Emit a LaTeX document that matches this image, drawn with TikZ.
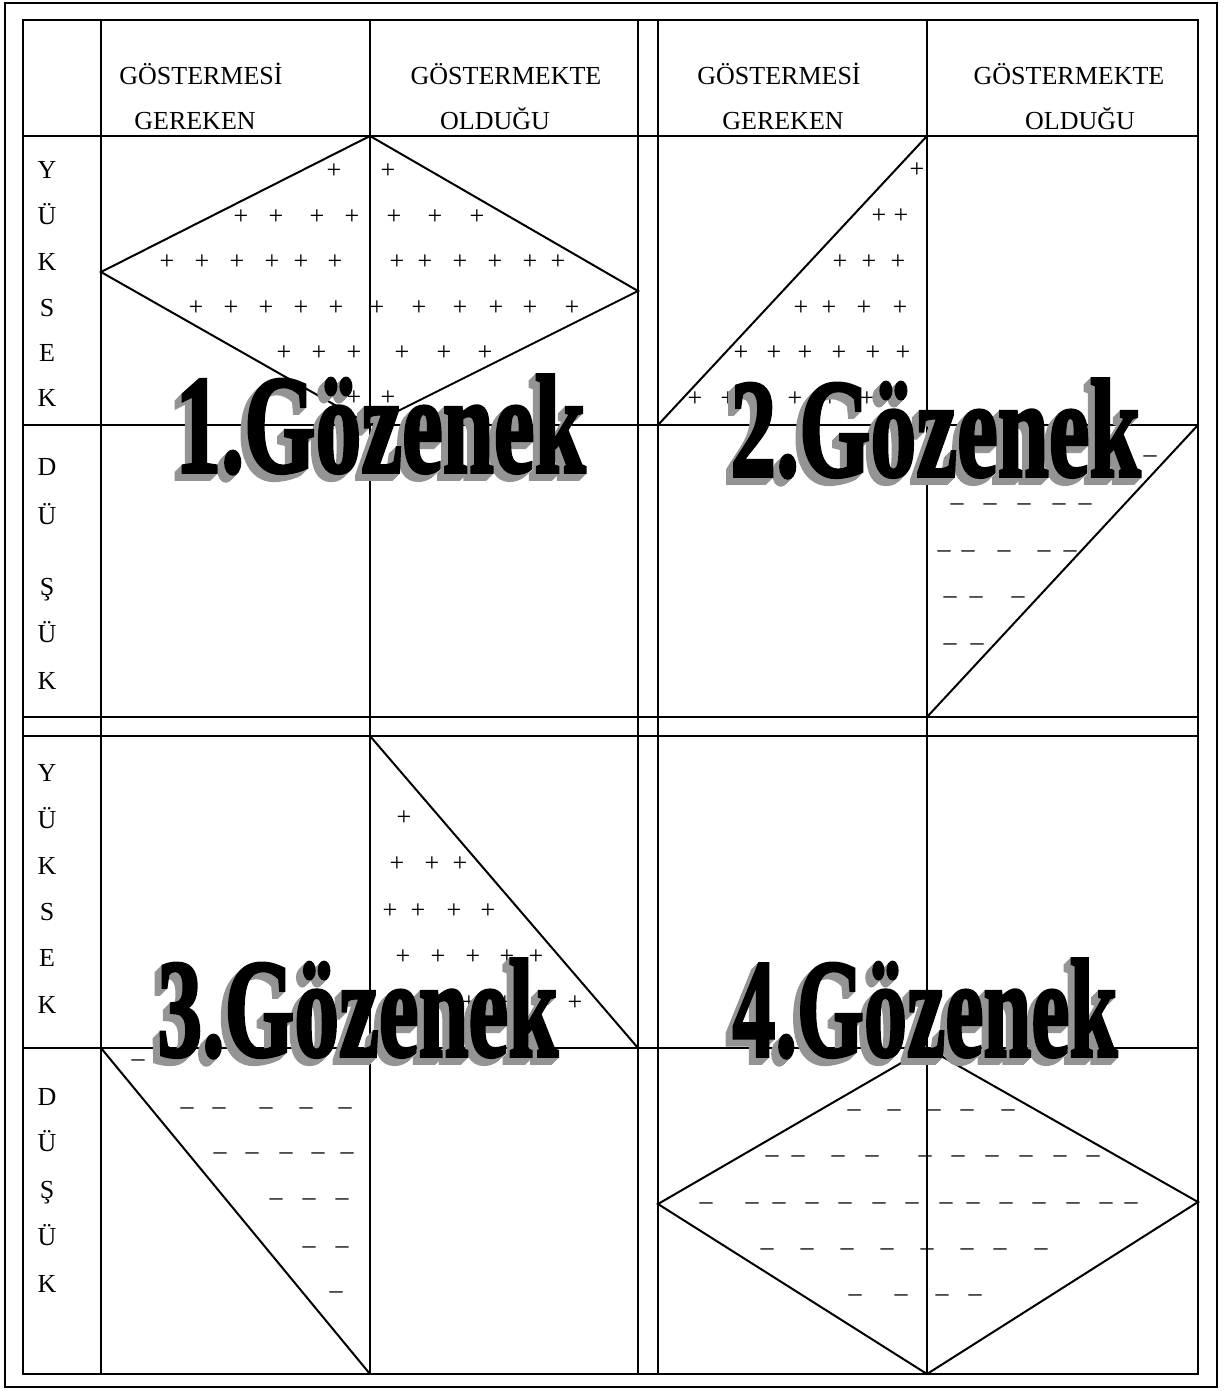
\documentclass[tikz,border=0pt]{standalone}
\usepackage{fontspec}
\setmainfont{Liberation Serif}
\newfontfamily\bigfont[BoldFeatures={FakeBold=2.5}]{Liberation Serif}
\begin{document}
\begin{tikzpicture}[x=0.5pt,y=-0.5pt,
  gridline/.style={line width=1pt,black},
  diagline/.style={line width=1pt,black},
  txt/.style={font=\fontsize{13}{15}\selectfont,inner sep=0pt,anchor=base},
  sym/.style={font=\fontsize{13}{15}\selectfont,inner sep=0pt,anchor=center},
  bigfront/.style={font=\fontsize{70}{80}\selectfont\bigfont\bfseries,inner sep=0pt,anchor=base west,text=black},
  bigback/.style={font=\fontsize{70}{80}\selectfont\bigfont\bfseries,inner sep=0pt,anchor=base west,text=black!42}
]
\useasboundingbox (0,0) rectangle (1229,1391);
\fill[white] (0,0) rectangle (1229,1391);
% outer frame and table
\draw[gridline] (5,3) rectangle (1217,1387);
\draw[gridline] (23,20) rectangle (1198,1374);
\foreach \xx in {101,370,638,658,927} \draw[gridline] (\xx,20) -- (\xx,1374);
\foreach \yy in {136,425,717,736,1048} \draw[gridline] (23,\yy) -- (1198,\yy);
% header
\node[txt] (h1a) at (201,85) {GÖSTERMESİ};
\node[txt] (h1b) at (195,130) {GEREKEN};
\node[txt] (h2a) at (506,85) {GÖSTERMEKTE};
\node[txt] (h2b) at (495,130) {OLDUĞU};
\node[txt] (h3a) at (779,85) {GÖSTERMESİ};
\node[txt] (h3b) at (783,130) {GEREKEN};
\node[txt] (h4a) at (1069,85) {GÖSTERMEKTE};
\node[txt] (h4b) at (1080,130) {OLDUĞU};
% row labels
\foreach \t/\yy [count=\i] in {Y/170,Ü/216,K/262,S/308,E/353,K/398,D/467,Ü/516,Ş/587,Ü/634,K/681,
  Y/773,Ü/820,K/866,S/912,E/958,K/1005,D/1097,Ü/1143,Ş/1190,Ü/1237,K/1284}
  \node[txt] (r\i) at (47,\yy+8.6) {\t};
% shapes
\draw[diagline] (370,136) -- (101,272) -- (370,425) -- (638,291) -- cycle;
\draw[diagline] (658,425) -- (927,136);
\draw[diagline] (927,717) -- (1198,425);
\draw[diagline] (370,736) -- (638,1048);
\draw[diagline] (101,1048) -- (370,1374);
\draw[diagline] (927,1048) -- (658,1204) -- (927,1374) -- (1198,1202) -- cycle;
% pluses
\foreach \a/\b [count=\i] in {334/171,388/171,
241/217,276/217,317/217,352/217,394/217,435/217,477/217,
167/262,202/262,237/262,272/262,301/262,335/262,397/262,425/262,460/262,495/262,530/262,558/262,
196/308,231/308,266/308,301/308,336/308,377/308,419/308,460/308,496/308,530/308,572/308,
284/353,319/353,354/353,402/353,444/353,485/353,
354/398,388/398,
917/170,
879/216,901/216,
840/262,869/262,898/262,
801/308,829/308,864/308,900/308,
741/353,774/353,805/353,839/353,873/353,903/353,
695/399,728/399,795/399,830/399,867/399,898/399,
404/818,
397/864,432/864,460/864,
390/911,418/911,454/911,488/911,
403/957,438/957,473/957,507/957,536/957,
400/1003,435/1003,469/1003,505/1003,540/1003,575/1003}
  \node[sym] (p\i) at (\a,\b) {+};
% minuses
\foreach \a/\b [count=\i] in {1150/459,
957/507,990/507,1024/507,1059/507,1085/507,
944/554,968/554,1004/554,1044/554,1070/554,
950/600,976/600,1018/600,
950/647,977/647,
138/1063,173/1063,206/1063,
187/1111,219/1111,266/1111,306/1111,345/1111,
220/1156,252/1156,286/1156,318/1156,347/1156,
276/1202,309/1202,342/1202,
309/1250,342/1250,
336/1295,
854/1113,894/1113,934/1113,967/1113,1008/1113,
772/1159,798/1159,838/1159,872/1159,925/1159,958/1159,992/1159,1026/1159,1060/1159,1093/1159,
706/1206,752/1206,779/1206,812/1206,845/1206,879/1206,912/1206,946/1206,973/1206,1006/1206,1039/1206,1073/1206,1106/1206,1131/1206,
767/1252,807/1252,847/1252,887/1252,927/1252,967/1252,1000/1252,1041/1252,
855/1298,901/1298,942/1298,975/1298}
  \node[sym] (m\i) at (\a,\b) {–};
% big 3D titles
\foreach \t/\a/\b/\s [count=\i] in {1/175/472/0.655,2/730/476/0.655,3/157/1056/0.64,4/732/1056/0.615}{
  \foreach \k in {7,6,5,4,3,2,1}
    \node[bigback] at (\a-\k,\b+\k) {\scalebox{\s}[1]{\t.Gözenek}};
  \node[bigfront] (g\i) at (\a,\b) {\scalebox{\s}[1]{\t.Gözenek}};
}
\end{tikzpicture}
\end{document}
